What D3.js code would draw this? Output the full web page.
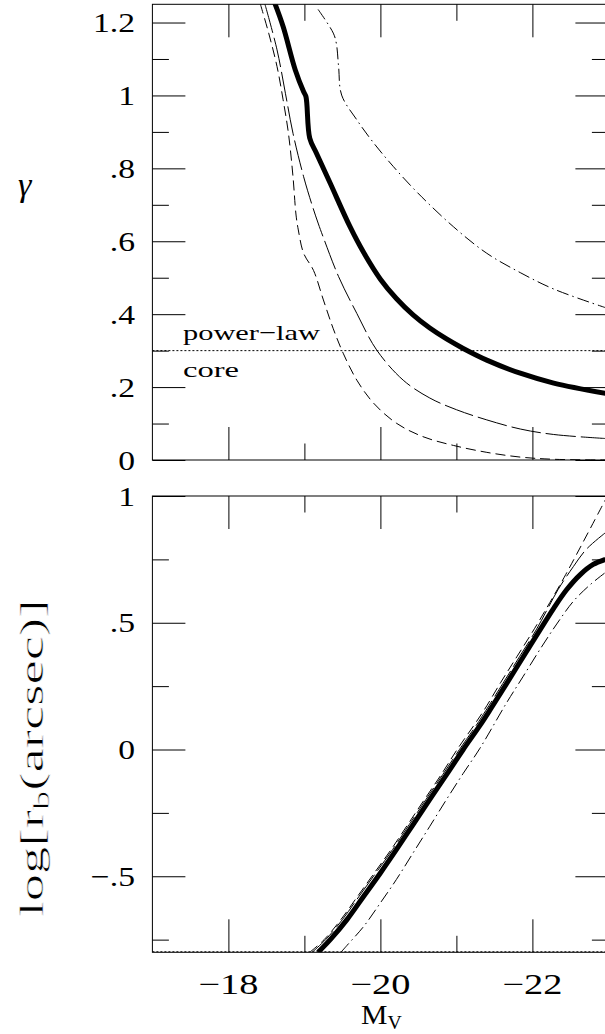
<!DOCTYPE html>
<html>
<head>
<meta charset="utf-8">
<script src="https://cdn.jsdelivr.net/npm/d3@7"></script>
<style>
  html, body { margin: 0; padding: 0; background: #fff; }
  svg { display: block; }
  text { font-family: "Liberation Serif", "Times New Roman", serif; fill: #000; }
</style>
</head>
<body>
<svg id="chart" width="605" height="1034"></svg>
<script>
// ---- axis ticks and labels ----
const xMajorTicks = [-18, -20, -22];
const xMinorTicks = [-19, -21];
const xTickLabels = ["−18", "−20", "−22"];

const gammaMajorTicks = [0, 0.2, 0.4, 0.6, 0.8, 1.0, 1.2];
const gammaMinorTicks = [0.1, 0.3, 0.5, 0.7, 0.9, 1.1];
const gammaTickLabels = ["0", ".2", ".4", ".6", ".8", "1", "1.2"];

const rbMajorTicks = [-0.5, 0, 0.5, 1];
const rbMinorTicks = [-0.75, -0.25, 0.25, 0.75];
const rbTickLabels = ["−.5", "0", ".5", "1"];

// power-law / core dividing value of gamma, and the floor of the break-radius panel
const gammaDivide = 0.3;
const rbFloor = -0.8;

// ---- top panel: gamma vs M_V ----
const gammaThick = [
  [-18.61, 1.253], [-18.72, 1.189], [-18.88, 1.070], [-18.99, 1.010], [-19.02, 0.997],
  [-19.07, 0.883], [-19.16, 0.841], [-19.34, 0.759], [-19.60, 0.640], [-19.78, 0.569],
  [-20.00, 0.496], [-20.21, 0.443], [-20.43, 0.398], [-20.65, 0.362], [-20.87, 0.332],
  [-21.09, 0.306], [-21.40, 0.274], [-21.84, 0.238], [-22.28, 0.211], [-22.96, 0.183]
];
const gammaLongDash = [
  [-18.48, 1.251], [-18.64, 1.125], [-18.75, 1.006], [-18.85, 0.896], [-18.99, 0.777],
  [-19.10, 0.700], [-19.18, 0.650], [-19.25, 0.610], [-19.45, 0.503], [-19.69, 0.402],
  [-19.95, 0.302], [-20.30, 0.219], [-20.65, 0.170], [-21.00, 0.138], [-21.40, 0.110],
  [-21.84, 0.085], [-22.28, 0.070], [-22.96, 0.059]
];
const gammaShortDash = [
  [-18.42, 1.251], [-18.53, 1.171], [-18.64, 1.079], [-18.72, 0.988], [-18.79, 0.896],
  [-18.85, 0.777], [-18.89, 0.672], [-18.92, 0.631], [-18.99, 0.567], [-19.12, 0.520],
  [-19.25, 0.439], [-19.38, 0.360], [-19.51, 0.293], [-19.69, 0.219], [-19.91, 0.156],
  [-20.21, 0.101], [-20.56, 0.064], [-20.96, 0.040], [-21.40, 0.021], [-21.84, 0.008],
  [-22.28, 0.002], [-22.96, 0.000]
];
const gammaDashDot = [
  [-19.18, 1.236], [-19.38, 1.171], [-19.42, 1.143], [-19.45, 1.079], [-19.49, 1.001],
  [-19.69, 0.933], [-19.91, 0.870], [-20.17, 0.805], [-20.48, 0.735], [-20.96, 0.640],
  [-21.40, 0.567], [-21.84, 0.514], [-22.28, 0.469], [-22.96, 0.418]
];

// ---- bottom panel: log break radius vs M_V ----
const rbThick = [
  [-19.18, -0.80], [-19.34, -0.750], [-19.56, -0.671], [-19.78, -0.579], [-20.00, -0.487],
  [-20.21, -0.395], [-20.43, -0.296], [-20.65, -0.197], [-20.87, -0.099], [-21.09, 0.000],
  [-21.31, 0.095], [-21.44, 0.155], [-21.66, 0.260], [-21.88, 0.366], [-22.10, 0.472],
  [-22.28, 0.557], [-22.45, 0.630], [-22.63, 0.690], [-22.80, 0.730], [-22.96, 0.750]
];
const rbLongDash = [
  [-19.10, -0.80], [-19.28, -0.750], [-19.50, -0.671], [-19.72, -0.579], [-19.94, -0.487],
  [-20.16, -0.395], [-20.38, -0.296], [-20.60, -0.197], [-20.82, -0.099], [-21.04, 0.000],
  [-21.26, 0.095], [-21.39, 0.155], [-21.61, 0.260], [-21.83, 0.366], [-22.05, 0.472],
  [-22.20, 0.555], [-22.34, 0.632], [-22.54, 0.722], [-22.71, 0.790], [-22.96, 0.855]
];
const rbShortDash = [
  [-19.07, -0.80], [-19.26, -0.750], [-19.48, -0.671], [-19.70, -0.579], [-19.92, -0.487],
  [-20.14, -0.395], [-20.36, -0.296], [-20.58, -0.197], [-20.80, -0.099], [-21.01, 0.000],
  [-21.23, 0.095], [-21.37, 0.158], [-21.58, 0.263], [-21.80, 0.368], [-22.03, 0.478],
  [-22.23, 0.580], [-22.44, 0.691], [-22.96, 0.985]
];
const rbDashDot = [
  [-19.48, -0.80], [-19.56, -0.773], [-19.78, -0.698], [-20.00, -0.605], [-20.21, -0.513],
  [-20.43, -0.408], [-20.65, -0.303], [-20.87, -0.197], [-21.09, -0.094], [-21.31, 0.005],
  [-21.66, 0.184], [-21.88, 0.289], [-22.10, 0.395], [-22.32, 0.495], [-22.54, 0.585],
  [-22.76, 0.650], [-22.96, 0.698]
];

// ---- layout ----
const svg = d3.select("#chart");
const left = 152.4, right = 608.4;
const x = d3.scaleLinear().domain([-17, -23]).range([left, right]);
const yTop = d3.scaleLinear().domain([0, 1.25]).range([460, 4.3]);
const yBot = d3.scaleLinear().domain([-0.8, 1]).range([952.3, 496]);

const majorLen = 33, minorLen = 16.5;
const styles = {
  thick:     { w: 5,   dash: null },
  longDash:  { w: 1,   dash: "30,5" },
  shortDash: { w: 1,   dash: "10,5" },
  dashDot:   { w: 1,   dash: "12,4,1.5,4" },
  dotted:    { w: 1,   dash: "2,2" }
};

function panel(id, y, majors, minors, labels) {
  const [y0, y1] = y.range();
  const g = svg.append("g");

  g.append("clipPath").attr("id", id)
    .append("rect").attr("x", left).attr("y", y1).attr("width", right - left).attr("height", y0 - y1);

  // ticks on all four edges, pointing inward
  const addAxis = (axis, tr) => {
    const a = g.append("g").attr("transform", tr).call(axis);
    a.select(".domain").remove();
    a.selectAll("text").remove();
    a.selectAll("line").attr("stroke", "#000").attr("stroke-width", 1);
  };
  addAxis(d3.axisBottom(x).tickValues(xMajorTicks).tickSize(-majorLen).tickFormat(""), `translate(0,${y0})`);
  addAxis(d3.axisBottom(x).tickValues(xMinorTicks).tickSize(-minorLen).tickFormat(""), `translate(0,${y0})`);
  addAxis(d3.axisTop(x).tickValues(xMajorTicks).tickSize(-majorLen).tickFormat(""), `translate(0,${y1})`);
  addAxis(d3.axisTop(x).tickValues(xMinorTicks).tickSize(-minorLen).tickFormat(""), `translate(0,${y1})`);
  addAxis(d3.axisLeft(y).tickValues(majors).tickSize(-majorLen).tickFormat(""), `translate(${left},0)`);
  addAxis(d3.axisLeft(y).tickValues(minors).tickSize(-minorLen).tickFormat(""), `translate(${left},0)`);
  addAxis(d3.axisRight(y).tickValues(majors).tickSize(-majorLen).tickFormat(""), `translate(${right},0)`);
  addAxis(d3.axisRight(y).tickValues(minors).tickSize(-minorLen).tickFormat(""), `translate(${right},0)`);

  // frame
  g.append("rect").attr("x", left).attr("y", y1).attr("width", right - left).attr("height", y0 - y1)
    .attr("fill", "none").attr("stroke", "#000").attr("stroke-width", 1);

  // y tick labels
  g.selectAll("text.ylab").data(majors).join("text")
    .attr("class", "ylab")
    .attr("text-anchor", "end")
    .attr("font-size", 28)
    .attr("transform", d => `translate(135,${y(d) + 9.5}) scale(1.2,1)`)
    .text((d, i) => labels[i]);

  return g.append("g").attr("clip-path", `url(#${id})`);
}

function drawCurve(g, y, data, st) {
  const line = d3.line().x(d => x(d[0])).y(d => y(d[1])).curve(d3.curveCatmullRom.alpha(0.5));
  g.append("path").datum(data)
    .attr("d", line)
    .attr("fill", "none")
    .attr("stroke", "#000")
    .attr("stroke-width", st.w)
    .attr("stroke-linejoin", "round")
    .attr("stroke-dasharray", st.dash);
}

// top panel
const gammaPanel = panel("clipTop", yTop, gammaMajorTicks, gammaMinorTicks, gammaTickLabels);
drawCurve(gammaPanel, yTop, [[-17, gammaDivide], [-23, gammaDivide]], styles.dotted);
drawCurve(gammaPanel, yTop, gammaShortDash, styles.shortDash);
drawCurve(gammaPanel, yTop, gammaLongDash, styles.longDash);
drawCurve(gammaPanel, yTop, gammaDashDot, styles.dashDot);
drawCurve(gammaPanel, yTop, gammaThick, styles.thick);

svg.append("text").attr("font-size", 22)
  .attr("x", 183).attr("y", 339.5).attr("textLength", 137).attr("lengthAdjust", "spacingAndGlyphs")
  .text("power−law");
svg.append("text").attr("font-size", 22)
  .attr("x", 183).attr("y", 377).attr("textLength", 56).attr("lengthAdjust", "spacingAndGlyphs")
  .text("core");

// bottom panel
const rbPanel = panel("clipBot", yBot, rbMajorTicks, rbMinorTicks, rbTickLabels);
drawCurve(rbPanel, yBot, [[-17, rbFloor + 0.002], [-23, rbFloor + 0.002]], styles.dotted);
drawCurve(rbPanel, yBot, rbShortDash, styles.shortDash);
drawCurve(rbPanel, yBot, rbLongDash, styles.longDash);
drawCurve(rbPanel, yBot, rbDashDot, styles.dashDot);
drawCurve(rbPanel, yBot, rbThick, styles.thick);

// x tick labels under the bottom panel
svg.selectAll("text.xlab").data(xMajorTicks).join("text")
  .attr("class", "xlab")
  .attr("text-anchor", "middle")
  .attr("font-size", 29)
  .attr("x", d => x(d)).attr("y", 993.5)
  .attr("textLength", 60).attr("lengthAdjust", "spacingAndGlyphs")
  .text((d, i) => xTickLabels[i]);

// axis titles
const mv = svg.append("text").attr("font-size", 27)
  .attr("transform", "translate(361,1024) scale(1.1,1)");
mv.append("tspan").text("M");
mv.append("tspan").attr("font-size", 18).attr("dy", 5).text("V");

svg.append("text").attr("font-size", 34).attr("font-style", "italic")
  .attr("x", 18).attr("y", 196).text("γ");

// rotated title, with a thin white outline to keep the large glyphs light
const rl = svg.append("text").attr("font-size", 34)
  .attr("text-anchor", "middle")
  .attr("transform", "translate(43,758) rotate(-90)")
  .attr("textLength", 317).attr("lengthAdjust", "spacingAndGlyphs")
  .attr("stroke", "#fff").attr("stroke-width", 0.6);
rl.append("tspan").text("log[r");
rl.append("tspan").attr("font-size", 24).attr("dy", 6).text("b");
rl.append("tspan").attr("dy", -6).text("(arcsec)]");
</script>
</body>
</html>
